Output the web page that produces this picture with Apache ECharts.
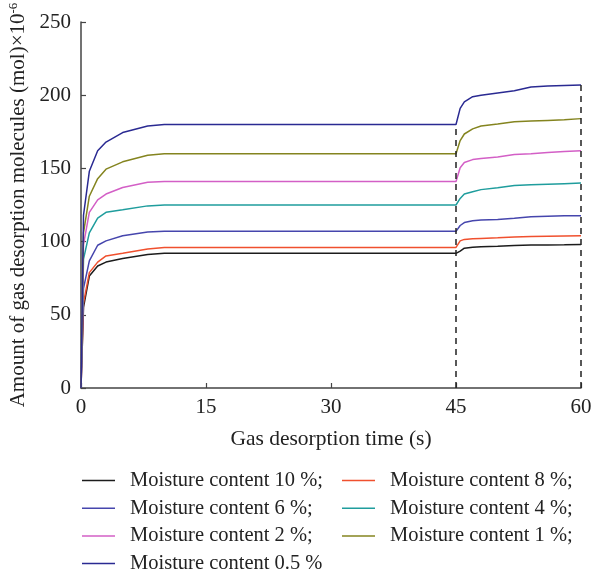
<!DOCTYPE html>
<html>
<head>
<meta charset="utf-8">
<script src="https://cdn.jsdelivr.net/npm/echarts@6/dist/echarts.min.js"></script>
<style>
  html, body { margin: 0; padding: 0; background: #fff; }
  #main { width: 592px; height: 575px; }
</style>
</head>
<body>
<div id="main"></div>
<script>
// shared time axis (s)
const times = [0, 0.3, 1, 2, 3, 5, 8, 10, 45, 45.5, 46, 47, 48, 50, 52, 54, 56, 58, 60];

// gas desorption amount (mol x 10^-6) for each moisture content
const moisture10 = [0, 55, 76.5, 83.3, 86, 88.4, 91.2, 92, 92, 93.5, 95.5, 96.2, 96.5, 96.9, 97.4, 97.6, 97.7, 97.8, 98];
const moisture8 = [0, 58, 78.8, 86, 90.2, 92, 95, 96, 96, 100.5, 101.5, 101.9, 102.2, 102.6, 103.1, 103.4, 103.6, 103.8, 104];
const moisture6 = [0, 68, 86.8, 97.5, 100.5, 104, 106.6, 107, 107, 111, 113, 114.2, 114.8, 115.1, 115.9, 117, 117.3, 117.6, 117.7];
const moisture4 = [0, 88, 106, 116, 120, 121.7, 124.4, 125, 125, 129.5, 132.5, 134, 135.5, 136.8, 138.3, 138.8, 139.2, 139.6, 140];
const moisture2 = [0, 98, 120, 128.5, 132.5, 137, 140.5, 141, 141, 150.5, 154, 156, 156.8, 157.8, 159.5, 160, 160.8, 161.6, 162];
const moisture1 = [0, 106, 131, 143, 149.5, 154.5, 159, 160, 160, 169, 173.5, 177, 179, 180.3, 181.8, 182.3, 182.8, 183.3, 184];
const moisture05 = [0, 118, 148, 162, 168, 174.5, 179, 180, 180, 191, 195.5, 199, 200, 201.5, 203, 205.6, 206.3, 206.7, 207];

const xTicks = [0, 15, 30, 45, 60];
const yTicks = [0, 50, 100, 150, 200, 250];
const markerTimes = [45, 60];

const font = 'Liberation Serif';

const seriesDefs = [
  { name: 'Moisture content 10 %;', data: moisture10, color: '#1c1c1c' },
  { name: 'Moisture content 8 %;', data: moisture8, color: '#f0502e' },
  { name: 'Moisture content 6 %;', data: moisture6, color: '#4646ad' },
  { name: 'Moisture content 4 %;', data: moisture4, color: '#1f9d9d' },
  { name: 'Moisture content 2 %;', data: moisture2, color: '#d35fc6' },
  { name: 'Moisture content 1 %;', data: moisture1, color: '#84841f' },
  { name: 'Moisture content 0.5 %', data: moisture05, color: '#2a2a92' }
];

const series = seriesDefs.map(s => ({
  name: s.name,
  type: 'line',
  showSymbol: false,
  symbol: 'none',
  lineStyle: { width: 1.5, color: s.color },
  itemStyle: { color: s.color },
  data: times.map((t, i) => [t, s.data[i]])
}));

// dashed guide lines from the axis up to the top curve
series[6].markLine = {
  silent: true,
  symbol: 'none',
  label: { show: false },
  lineStyle: { type: [6, 5], color: '#222', width: 1.5 },
  data: markerTimes.map(t => [
    { coord: [t, 0] },
    { coord: [t, moisture05[times.indexOf(t)]] }
  ])
};

const legendText = { fontFamily: font, fontSize: 20.5, color: '#222', lineHeight: 20, padding: [0, 0, 0, 10] };

const myChart = echarts.init(document.getElementById('main'));
const option = {
  animation: false,
  grid: { left: 81, right: 11, top: 22, bottom: 187, outerBoundsMode: 'none' },
  legend: [
    {
      orient: 'vertical',
      left: 82,
      top: 470,
      padding: 0,
      icon: 'rect',
      itemWidth: 33,
      itemHeight: 1.5,
      itemGap: 6.7,
      textStyle: legendText,
      data: [seriesDefs[0].name, seriesDefs[2].name, seriesDefs[4].name, seriesDefs[6].name]
    },
    {
      orient: 'vertical',
      left: 342,
      top: 470,
      padding: 0,
      icon: 'rect',
      itemWidth: 33,
      itemHeight: 1.5,
      itemGap: 6.7,
      textStyle: legendText,
      data: [seriesDefs[1].name, seriesDefs[3].name, seriesDefs[5].name]
    }
  ],
  xAxis: {
    type: 'value',
    min: xTicks[0],
    max: xTicks[xTicks.length - 1],
    interval: 15,
    name: 'Gas desorption time (s)',
    nameLocation: 'middle',
    nameGap: 40,
    nameTextStyle: { fontFamily: font, fontSize: 21.5, color: '#222' },
    axisLine: { lineStyle: { color: '#444', width: 1.5 } },
    axisTick: { inside: true, length: 5, lineStyle: { color: '#444', width: 1.2 } },
    axisLabel: { fontFamily: font, fontSize: 21, color: '#222', margin: 9 },
    splitLine: { show: false }
  },
  yAxis: {
    type: 'value',
    min: yTicks[0],
    max: yTicks[yTicks.length - 1],
    interval: 50,
    name: 'Amount of gas desorption molecules (mol)×10{sup|-6}',
    nameLocation: 'middle',
    nameGap: 50,
    nameTextStyle: {
      fontFamily: font,
      fontSize: 21,
      color: '#222',
      rich: {
        sup: { fontFamily: font, fontSize: 13, color: '#222', verticalAlign: 'top', padding: [0, 0, 10, 0] }
      }
    },
    axisLine: { show: true, lineStyle: { color: '#444', width: 1.5 } },
    axisTick: { show: true, inside: true, length: 5, lineStyle: { color: '#444', width: 1.2 } },
    axisLabel: { fontFamily: font, fontSize: 21, color: '#222', margin: 10 },
    splitLine: { show: false }
  },
  series: series
};

option && myChart.setOption(option);
</script>
</body>
</html>
